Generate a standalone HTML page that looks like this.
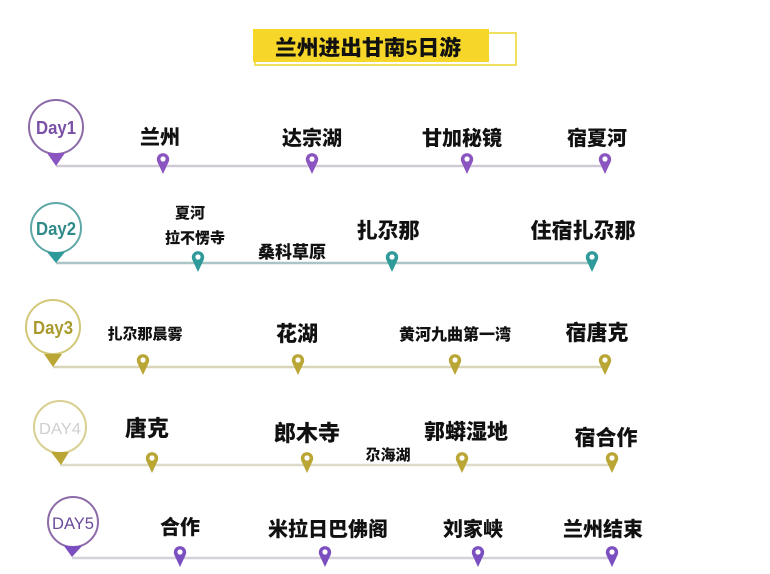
<!DOCTYPE html>
<html><head><meta charset="utf-8"><style>
html,body{margin:0;padding:0;background:#fff;}
svg{display:block;}
text{font-family:"Liberation Sans","Noto Sans CJK SC",sans-serif;font-weight:900;fill:#111;text-anchor:middle;}
</style></head><body>
<svg width="770" height="574" viewBox="0 0 770 574" xmlns="http://www.w3.org/2000/svg">
<defs>
<g id="pin"><path d="M0,18 L-5.6,6 A6.2,6.2 0 1 1 5.6,6 Z"/><circle cx="0" cy="3" r="2.6" fill="#fff"/></g>
</defs>
<rect x="255" y="33" width="261" height="32" fill="none" stroke="#f0e060" stroke-width="2"/>
<rect x="253" y="29" width="236" height="33" fill="#f5d629"/>
<text x="368" y="55" font-size="21" textLength="186" lengthAdjust="spacingAndGlyphs">兰州进出甘南5日游</text>

<!-- Day1 -->
<g>
<line x1="56" y1="166" x2="605" y2="166" stroke="#cfcad6" stroke-width="2.5"/>
<circle cx="56" cy="127" r="27" fill="#fff" stroke="#8d6aa8" stroke-width="2"/>
<path d="M47,153 L65,153 L56,166 Z" fill="#8a55c0"/>
<text x="56" y="134" font-size="18" style="fill:#7a4fa6" textLength="40" lengthAdjust="spacingAndGlyphs">Day1</text>
<g fill="#8a55c0"><use href="#pin" x="163" y="156"/><use href="#pin" x="312" y="156"/><use href="#pin" x="467" y="156"/><use href="#pin" x="605" y="156"/></g>
<text x="160" y="144" font-size="20">兰州</text>
<text x="312" y="145" font-size="20">达宗湖</text>
<text x="462" y="145" font-size="20">甘加秘镜</text>
<text x="597" y="145" font-size="20">宿夏河</text>
</g>

<!-- Day2 -->
<g>
<line x1="56" y1="263" x2="595" y2="263" stroke="#a9c5c5" stroke-width="2.5"/>
<circle cx="56" cy="228" r="25" fill="#fff" stroke="#5fa8a8" stroke-width="2"/>
<path d="M47,252 L65,252 L56,263 Z" fill="#2f9a9a"/>
<text x="56" y="235" font-size="18" style="fill:#2f8a8a" textLength="40" lengthAdjust="spacingAndGlyphs">Day2</text>
<g fill="#2f9a9a"><use href="#pin" x="198" y="254"/><use href="#pin" x="392" y="254"/><use href="#pin" x="592" y="254"/></g>
<text x="190" y="218" font-size="15">夏河</text>
<text x="195" y="243" font-size="15">拉不愣寺</text>
<text x="292" y="258" font-size="17">桑科草原</text>
<text x="388" y="238" font-size="21">扎尕那</text>
<text x="583" y="238" font-size="21">住宿扎尕那</text>
</g>

<!-- Day3 -->
<g>
<line x1="53" y1="367" x2="605" y2="367" stroke="#d9d6b8" stroke-width="2.5"/>
<circle cx="53" cy="327" r="27" fill="#fff" stroke="#d2c878" stroke-width="2"/>
<path d="M44,354 L62,354 L53,367 Z" fill="#b9a635"/>
<text x="53" y="334" font-size="18" style="fill:#a99a2e" textLength="40" lengthAdjust="spacingAndGlyphs">Day3</text>
<g fill="#b9a635"><use href="#pin" x="143" y="357"/><use href="#pin" x="298" y="357"/><use href="#pin" x="455" y="357"/><use href="#pin" x="605" y="357"/></g>
<text x="145" y="339" font-size="15">扎尕那晨雾</text>
<text x="297" y="341" font-size="21">花湖</text>
<text x="455" y="340" font-size="16">黄河九曲第一湾</text>
<text x="597" y="340" font-size="21">宿唐克</text>
</g>

<!-- Day4 -->
<g>
<line x1="60" y1="465" x2="615" y2="465" stroke="#dedcc8" stroke-width="2.5"/>
<circle cx="60" cy="427" r="26" fill="#fff" stroke="#d8cf90" stroke-width="2"/>
<path d="M51,452 L69,452 L61,465 Z" fill="#b9a635"/>
<text x="60" y="434" font-size="16" style="fill:#cfcfcf;font-weight:400" textLength="42" lengthAdjust="spacingAndGlyphs">DAY4</text>
<g fill="#b9a635"><use href="#pin" x="152" y="455"/><use href="#pin" x="307" y="455"/><use href="#pin" x="462" y="455"/><use href="#pin" x="612" y="455"/></g>
<text x="147" y="436" font-size="22">唐克</text>
<text x="307" y="441" font-size="22">郎木寺</text>
<text x="388" y="460" font-size="15">尕海湖</text>
<text x="466" y="439" font-size="21">郭蟒湿地</text>
<text x="606" y="445" font-size="21">宿合作</text>
</g>

<!-- Day5 -->
<g>
<line x1="72" y1="558" x2="615" y2="558" stroke="#d4d0dc" stroke-width="2.5"/>
<circle cx="73" cy="522" r="25" fill="#fff" stroke="#8d6aa8" stroke-width="2"/>
<path d="M64,546 L82,546 L72,557 Z" fill="#7b4fc0"/>
<text x="73" y="529" font-size="17" style="fill:#6a4a98;font-weight:400" textLength="42" lengthAdjust="spacingAndGlyphs">DAY5</text>
<g fill="#7b4fc0"><use href="#pin" x="180" y="549"/><use href="#pin" x="325" y="549"/><use href="#pin" x="478" y="549"/><use href="#pin" x="612" y="549"/></g>
<text x="180" y="534" font-size="20">合作</text>
<text x="328" y="536" font-size="20">米拉日巴佛阁</text>
<text x="473" y="536" font-size="20">刘家峡</text>
<text x="603" y="536" font-size="20">兰州结束</text>
</g>
</svg>
</body></html>
